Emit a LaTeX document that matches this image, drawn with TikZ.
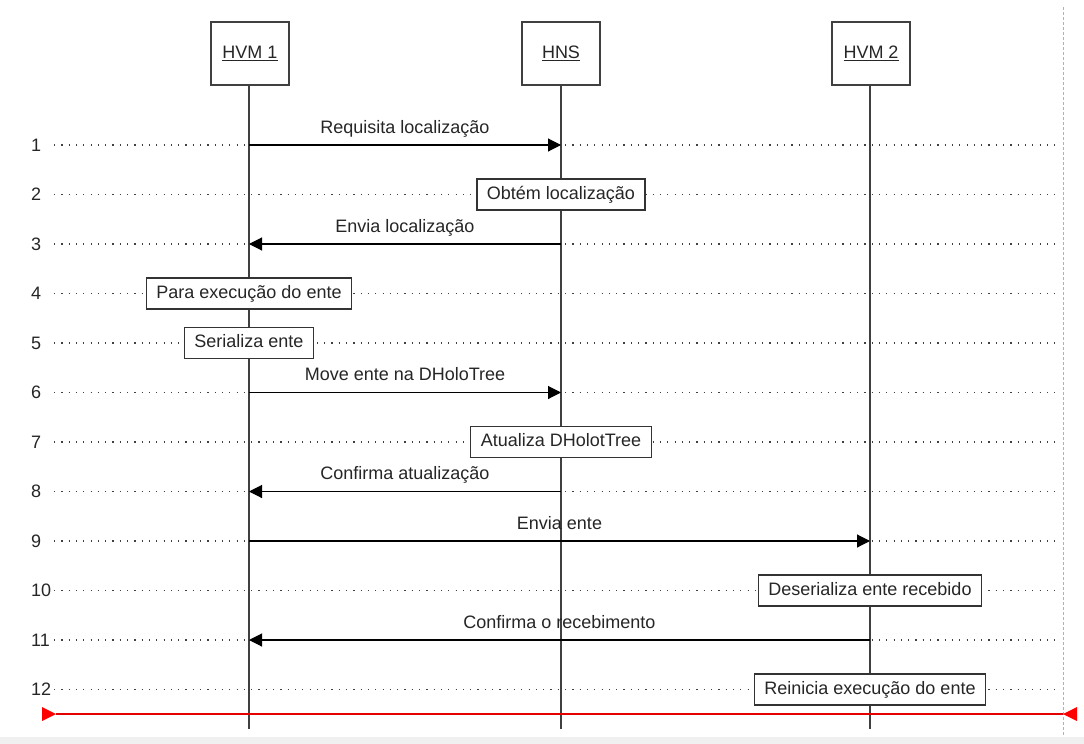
\documentclass[tikz,border=0pt]{standalone}
\usepackage{fontspec}
\setmainfont{Liberation Sans}
\usetikzlibrary{arrows.meta}
\begin{document}
\begin{tikzpicture}[x=1pt,y=-1pt,
  font=\fontsize{18}{21}\selectfont,
  head/.style={draw=black!75, line width=1.2pt, minimum width=78pt, minimum height=63pt,
    inner sep=0pt, text=black!85},
  act/.style={draw=black!80, fill=white, line width=1.1pt, minimum height=31pt,
    inner xsep=10pt, inner ysep=0pt, text height=13pt, text depth=4pt, text=black!85},
  life/.style={draw=black!75, line width=1.3pt},
  rowline/.style={draw=black!75, line width=1.2pt, dash pattern=on 1.2pt off 6.1pt},
  msg/.style={draw=black, line width=1.1pt, -{Triangle[length=13pt,width=13pt]}},
  lbl/.style={midway, above=7pt, inner sep=0pt, text height=13pt, text depth=4pt, text=black!85},
  rownum/.style={anchor=west, inner sep=0pt, text=black!85}]

% canvas
\fill[white] (0,0) rectangle (1084,744);
\useasboundingbox (0,0) rectangle (1084,744);
\fill[black!6] (0,737) rectangle (1084,744);
\draw[black!30, line width=1pt, dash pattern=on 3pt off 2pt] (1063,7) -- (1063,735);

% row guide lines and numbers
\foreach \i in {1,...,12}{
  \pgfmathsetmacro{\yy}{145+(\i-1)*49.5}
  \node[rownum] (n\i) at (31,\yy) {\i};
  \draw[rowline] (54,\yy) -- (1056,\yy);
  \coordinate (a\i) at (249,\yy);
  \coordinate (b\i) at (561,\yy);
  \coordinate (c\i) at (870,\yy);
}

% participants and lifelines
\node[head] (hvm1) at (250,53.5) {\underline{HVM 1}};
\node[head] (hns)  at (561,53.5) {\underline{HNS}};
\node[head] (hvm2) at (871,53.5) {\underline{HVM 2}};
\coordinate (hvm1end) at (249,729);
\coordinate (hnsend)  at (561,729);
\coordinate (hvm2end) at (870,729);
\draw[life] (hvm1.south -| hvm1end) -- (hvm1end);
\draw[life] (hns.south -| hnsend) -- (hnsend);
\draw[life] (hvm2.south -| hvm2end) -- (hvm2end);

% messages
\draw[msg] (a1) -- (b1) node[lbl] {Requisita localização};
\draw[msg] (b3) -- (a3) node[lbl] {Envia localização};
\draw[msg] (a6) -- (b6) node[lbl] {Move ente na DHoloTree};
\draw[msg] (b8) -- (a8) node[lbl] {Confirma atualização};
\draw[msg] (a9) -- (c9) node[lbl] {Envia ente};
\draw[msg] (c11) -- (a11) node[lbl] {Confirma o recebimento};

% local actions
\node[act] (s2)  at (b2)  {Obtém localização};
\node[act] (s4)  at (a4)  {Para execução do ente};
\node[act] (s5)  at (a5)  {Serializa ente};
\node[act] (s7)  at (b7)  {Atualiza DHolotTree};
\node[act] (s10) at (c10) {Deserializa ente recebido};
\node[act] (s12) at (c12) {Reinicia execução do ente};

% end-of-trace marker
\coordinate (redL) at (56,714);
\coordinate (redR) at (1063,714);
\draw[red!90!black, line width=1.3pt] (redL) -- (redR);
\fill[red] (redL) -- ++(-14,-7) -- ++(0,14) -- cycle;
\fill[red] (redR) -- ++(14,-7) -- ++(0,14) -- cycle;
\end{tikzpicture}
\end{document}
